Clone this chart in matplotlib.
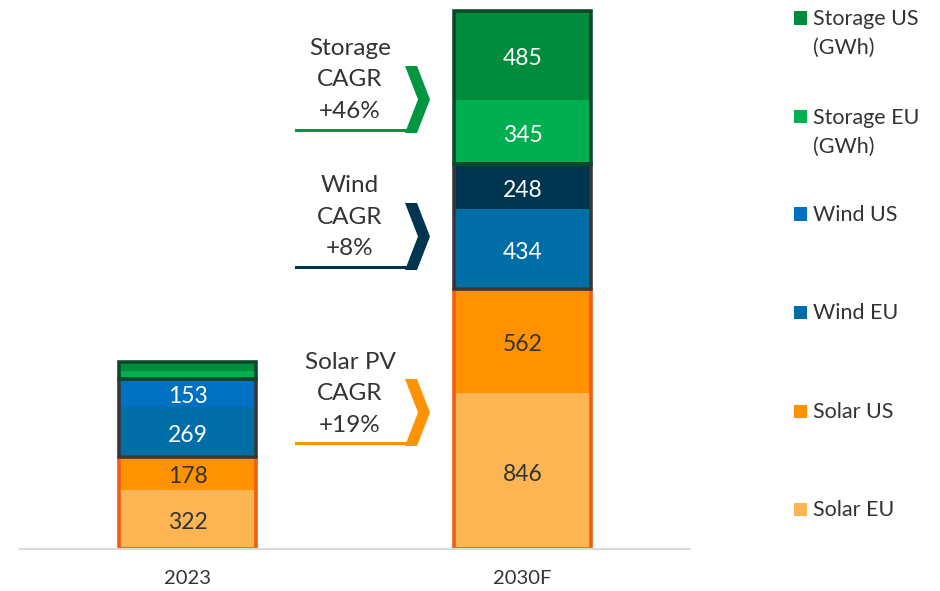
import matplotlib
matplotlib.use("Agg")
import matplotlib.pyplot as plt
from matplotlib.patches import Polygon, Rectangle

plt.rcParams['font.family'] = ['Lato', 'DejaVu Sans']

years = ['2023', '2030F']
series = ['Solar EU', 'Solar US', 'Wind EU', 'Wind US', 'Storage EU\n(GWh)', 'Storage US\n(GWh)']
solar_eu = [322, 846]
solar_us = [178, 562]
wind_eu = [269, 434]
wind_us = [153, 248]
storage_eu = [45, 345]
storage_us = [45, 485]
cagr_labels = ['Storage\nCAGR\n+46%', 'Wind\nCAGR\n+8%', 'Solar PV\nCAGR\n+19%']

values = [solar_eu, solar_us, wind_eu, wind_us, storage_eu, storage_us]
# per-bar fill colours (the 2030 wind US segment is darker in the original)
fills = [['#FDB553', '#FDB553'], ['#FF9200', '#FF9200'], ['#006EA6', '#006EA6'],
         ['#0070C0', '#00354F'], ['#00B050', '#00B050'], ['#008C3C', '#008C3C']]
legend_colors = ['#FDB553', '#FF9200', '#006EA6', '#0070C0', '#00B050', '#008C3C']
text_colors = ['#333333', '#333333', 'white', 'white', 'white', 'white']
TXT = '#333333'

fig = plt.figure(figsize=(9.4, 5.91), dpi=100)
W, H = 940, 591
ax = fig.add_axes([20 / W, 1 - 549 / H, 670 / W, 541 / H])

x = [0, 1]
width = 0.41
bottom = [0, 0]
for i, vals in enumerate(values):
    ax.bar(x, vals, width, bottom=bottom, color=fills[i], linewidth=0)
    for j in range(2):
        if vals[j] >= 100:
            ax.text(x[j], bottom[j] + vals[j] / 2 - 8, str(vals[j]), ha='center',
                    va='center_baseline', color=text_colors[i], fontsize=16.5)
    bottom = [bottom[k] + vals[k] for k in range(2)]

# group outlines
solar = [a + b for a, b in zip(solar_eu, solar_us)]
wind = [a + b for a, b in zip(wind_eu, wind_us)]
storage = [a + b for a, b in zip(storage_eu, storage_us)]
ax.bar(x, solar, width, fill=False, edgecolor='#F25C14', linewidth=2.6)
ax.bar(x, wind, width, bottom=solar, fill=False, edgecolor='#383838', linewidth=2.6)
ax.bar(x, storage, width, bottom=[s + w for s, w in zip(solar, wind)],
       fill=False, edgecolor='#0B4A28', linewidth=2.6)

ax.set_xlim(-0.5, 1.5)
ax.set_ylim(0, 2935)
ax.set_xticks(x)
ax.set_xticklabels(years, fontsize=14.5, color=TXT)
ax.tick_params(axis='x', length=0, pad=15)
ax.set_yticks([])
for s in ['top', 'right', 'left']:
    ax.spines[s].set_visible(False)
ax.spines['bottom'].set_color('#D9D9D9')
ax.spines['bottom'].set_linewidth(1.5)


def fx(px):
    return px / W


def fy(py):
    return 1 - py / H


# CAGR chevrons
def chevron(top, color):
    bot = top + 67
    mid = (top + bot) / 2
    pts = [(405, top), (417, top), (430, mid), (417, bot), (405, bot), (418, mid)]
    fig.patches.append(Polygon([(fx(a), fy(b)) for a, b in pts], closed=True,
                               facecolor=color, edgecolor='none', transform=fig.transFigure))
    fig.patches.append(Rectangle((fx(295), fy(bot - 1)), fx(412) - fx(295), 3.5 / H,
                                 facecolor=color, edgecolor='none', transform=fig.transFigure))


chev_tops = [66, 203, 379]
chev_colors = ['#00963F', '#00354F', '#FF9200']
text_mid = [80, 217, 394]
for lab, top, c, ym in zip(cagr_labels, chev_tops, chev_colors, text_mid):
    chevron(top, c)
    fig.text(fx(350), fy(ym), lab, ha='center', va='center', fontsize=17.5,
             color=TXT, linespacing=1.64)

# legend, top to bottom
leg_y = [18, 117, 214, 312, 411, 509]
for name, c, yy in zip(series[::-1], legend_colors[::-1], leg_y):
    fig.patches.append(Rectangle((fx(794), fy(yy + 6.5)), 13 / W, 13 / H,
                                 facecolor=c, edgecolor='none', transform=fig.transFigure))
    fig.text(fx(813), fy(yy - 9), name, ha='left', va='top', fontsize=15.5,
             color=TXT, linespacing=1.55)

fig.savefig('out.png', dpi=100)
